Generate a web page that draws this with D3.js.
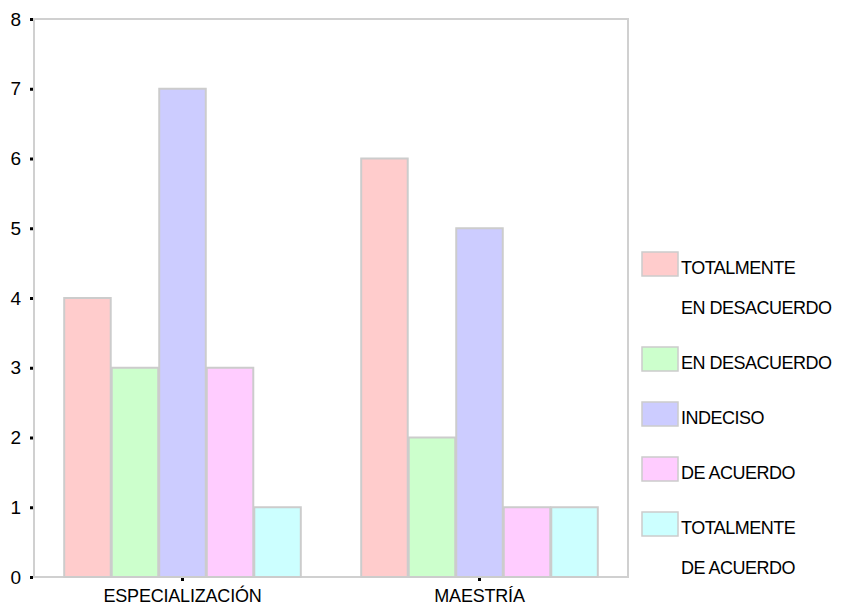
<!DOCTYPE html>
<html>
<head>
<meta charset="utf-8">
<script src="https://cdn.jsdelivr.net/npm/d3@7"></script>
<style>
  body { margin: 0; background: #fff; }
  text { font-family: "Liberation Sans", Arial, sans-serif; fill: #000; }
</style>
</head>
<body>
<div id="chart"></div>
<script>
// Chart data
const categories = ["ESPECIALIZACIÓN", "MAESTRÍA"];
const seriesNames = ["TOTALMENTE EN DESACUERDO", "EN DESACUERDO", "INDECISO", "DE ACUERDO", "TOTALMENTE DE ACUERDO"];
const legendLines = [["TOTALMENTE", "EN DESACUERDO"], ["EN DESACUERDO"], ["INDECISO"], ["DE ACUERDO"], ["TOTALMENTE", "DE ACUERDO"]];
const especializacion = [4, 3, 7, 3, 1];
const maestria = [6, 2, 5, 1, 1];
const yTicks = [0, 1, 2, 3, 4, 5, 6, 7, 8];
const colors = ["#ffcccc", "#ccffcc", "#ccccff", "#ffccff", "#ccffff"];

const values = [especializacion, maestria];

// Plot frame
let margin = {top: 19, left: 34};
let width = 594;
let height = 558;

let svg = d3.select("#chart")
    .append("svg")
    .attr("width", 844)
    .attr("height", 607);

let g = svg.append("g")
    .attr("transform", `translate(${margin.left}, ${margin.top})`);

// Scales
const x0 = d3.scaleBand()
    .domain(categories)
    .range([0, width])
    .paddingInner(0.2)
    .paddingOuter(0.1);

const x1 = d3.scaleBand()
    .domain(seriesNames)
    .range([0, x0.bandwidth()])
    .padding(0);

const y = d3.scaleLinear()
    .domain([0, 8])
    .range([height, 0]);

// Frame
g.append("rect")
    .attr("x", 0)
    .attr("y", 0)
    .attr("width", width)
    .attr("height", height)
    .attr("fill", "none")
    .attr("stroke", "#d0d0d0")
    .attr("stroke-width", 2);

// Bars
const groups = g.selectAll(".group")
    .data(categories)
    .enter()
    .append("g")
    .attr("class", "group")
    .attr("transform", d => `translate(${x0(d)}, 0)`);

groups.selectAll("rect")
    .data((d, i) => values[i].map((v, j) => ({name: seriesNames[j], value: v, color: colors[j]})))
    .enter()
    .append("rect")
    .attr("x", d => x1(d.name) + 0.5)
    .attr("y", d => y(d.value))
    .attr("width", x1.bandwidth() - 1)
    .attr("height", d => height - y(d.value))
    .attr("fill", d => d.color)
    .attr("stroke", "#cccccc")
    .attr("stroke-width", 2);

// Y axis
const yAxis = g.append("g")
    .attr("transform", "translate(-1, 0)")
    .call(d3.axisLeft(y).tickValues(yTicks).tickSize(3).tickPadding(9).tickFormat(d3.format("d")));
yAxis.select(".domain").remove();
yAxis.selectAll(".tick line").attr("stroke", "#000").attr("stroke-width", 3);
yAxis.selectAll("text").style("font-size", "19px");

// X axis
const xAxis = g.append("g")
    .attr("transform", `translate(0, ${height + 1})`)
    .call(d3.axisBottom(x0).tickSize(3).tickPadding(8));
xAxis.select(".domain").remove();
xAxis.selectAll(".tick line").attr("stroke", "#000").attr("stroke-width", 3);
xAxis.selectAll("text").style("font-size", "18px").style("letter-spacing", "-0.2px");

// Legend
let legendY = 252;
const legend = svg.append("g");
legendLines.forEach((lines, i) => {
    const item = legend.append("g").attr("transform", `translate(642, ${legendY})`);
    item.append("rect")
        .attr("width", 36)
        .attr("height", 24)
        .attr("fill", colors[i])
        .attr("stroke", "#cccccc")
        .attr("stroke-width", 1.5);
    lines.forEach((line, k) => {
        item.append("text")
            .attr("x", 39)
            .attr("y", 22 + k * 40)
            .style("font-size", "18px")
            .style("letter-spacing", "-0.5px")
            .text(line);
    });
    legendY += 55 + 40 * (lines.length - 1);
});
</script>
</body>
</html>
